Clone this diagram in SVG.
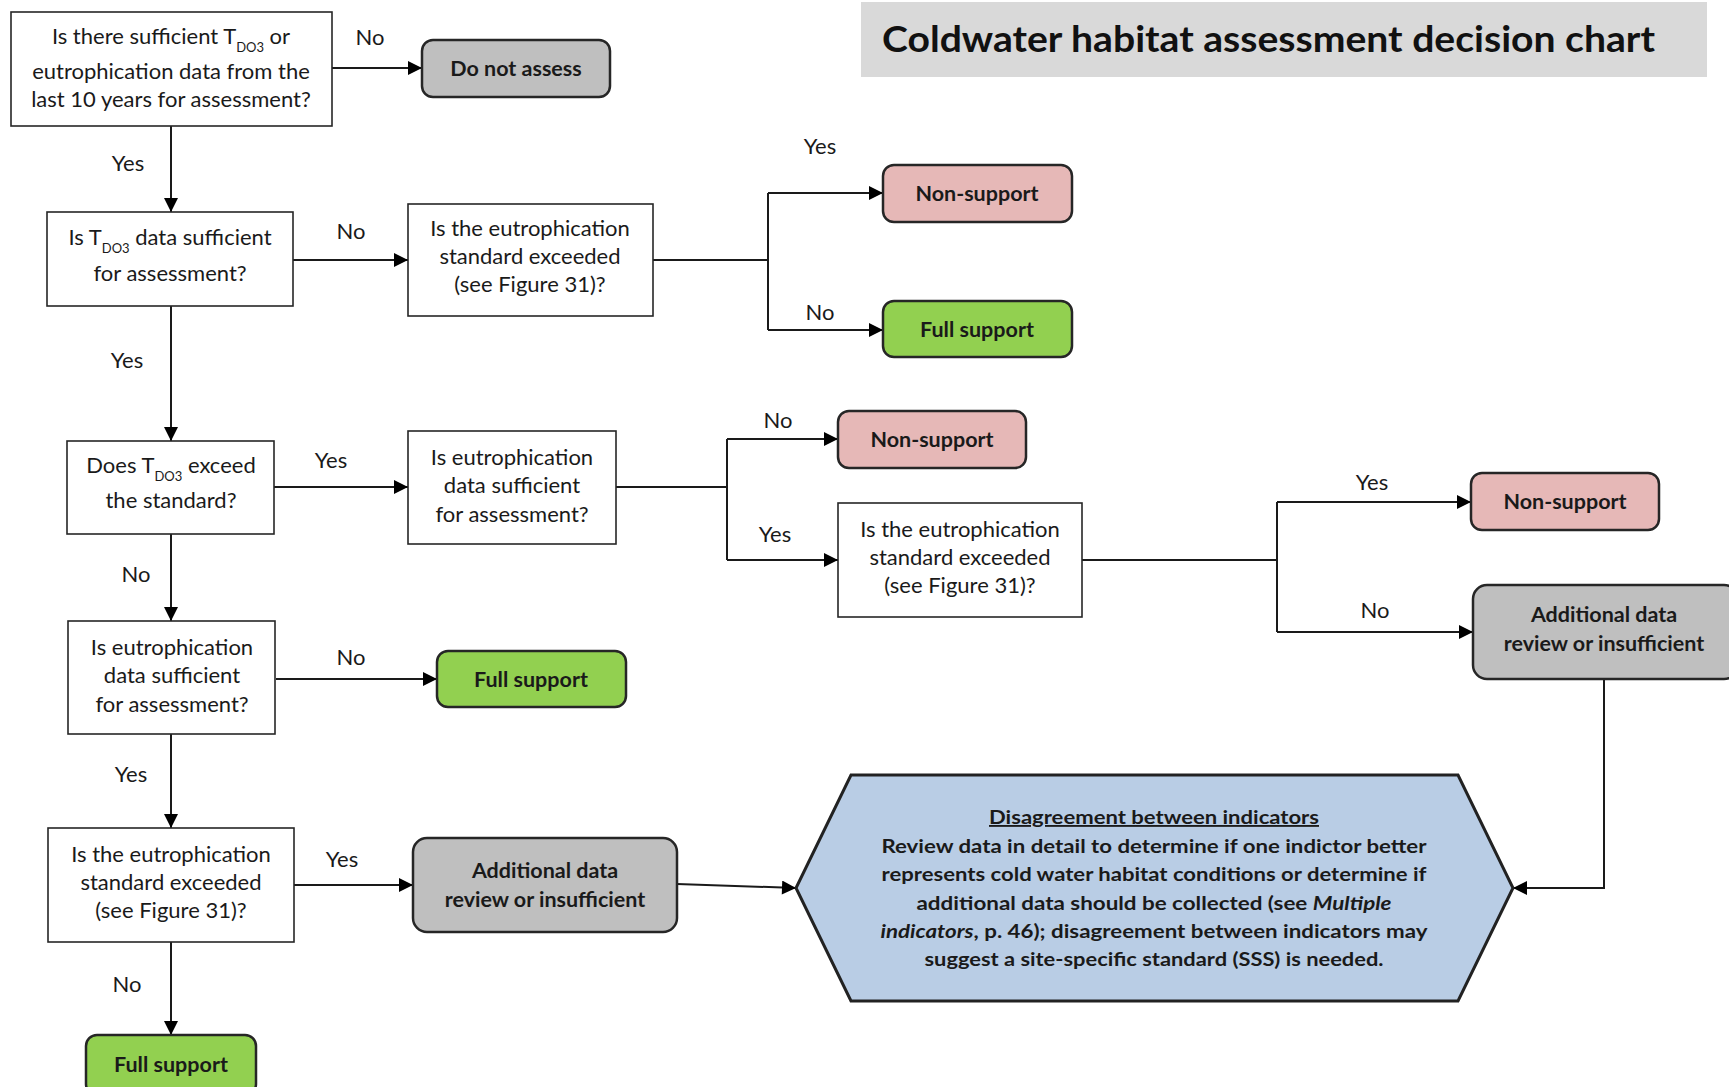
<svg xmlns="http://www.w3.org/2000/svg" width="1729" height="1087" viewBox="0 0 1729 1087">
<style>
.box{fill:#fff;stroke:#262626;stroke-width:1.6}
.res{stroke:#262626;stroke-width:2.5}
.ns{fill:#e6b8b7}
.fs{fill:#92d050}
.gr{fill:#bfbfbf}
.t{font-family:Lato,'Liberation Sans',sans-serif;font-size:22px;fill:#1a1a1a;text-anchor:middle}
.b{font-weight:bold;font-size:21.5px}
.sub{font-size:13px}
.conn{stroke:#1a1a1a;stroke-width:2;fill:none}
</style>
<defs>
<marker id="ah" viewBox="0 0 10 10" refX="10" refY="5" markerWidth="15" markerHeight="14" markerUnits="userSpaceOnUse" orient="auto">
<path d="M0,0 L10,5 L0,10 z" fill="#000"/>
</marker>
</defs>
<rect width="1729" height="1087" fill="#fff"/>

<g id="title">
<rect x="861" y="2" width="846" height="75" fill="#d9d9d9"/>
<text x="882" y="52" font-family="Lato,'Liberation Sans',sans-serif" font-size="36" font-weight="bold" fill="#111" textLength="773" lengthAdjust="spacingAndGlyphs">Coldwater habitat assessment decision chart</text>
</g>

<g id="connectors">
<path class="conn" d="M332,68 H422" marker-end="url(#ah)"/>
<path class="conn" d="M171,126 V212" marker-end="url(#ah)"/>
<path class="conn" d="M293,260 H408" marker-end="url(#ah)"/>
<path class="conn" d="M653,260 H768"/>
<path class="conn" d="M768,193 V330"/>
<path class="conn" d="M768,193 H883" marker-end="url(#ah)"/>
<path class="conn" d="M768,330 H883" marker-end="url(#ah)"/>
<path class="conn" d="M171,306 V441" marker-end="url(#ah)"/>
<path class="conn" d="M274,487 H408" marker-end="url(#ah)"/>
<path class="conn" d="M616,487 H727"/>
<path class="conn" d="M727,439 V560"/>
<path class="conn" d="M727,439 H838" marker-end="url(#ah)"/>
<path class="conn" d="M727,560 H838" marker-end="url(#ah)"/>
<path class="conn" d="M1082,560 H1277"/>
<path class="conn" d="M1277,502 V632"/>
<path class="conn" d="M1277,502 H1471" marker-end="url(#ah)"/>
<path class="conn" d="M1277,632 H1473" marker-end="url(#ah)"/>
<path class="conn" d="M1604,679 V888 H1513" marker-end="url(#ah)"/>
<path class="conn" d="M171,534 V621" marker-end="url(#ah)"/>
<path class="conn" d="M276,679 H437" marker-end="url(#ah)"/>
<path class="conn" d="M171,734 V828" marker-end="url(#ah)"/>
<path class="conn" d="M294,885 H413" marker-end="url(#ah)"/>
<path class="conn" d="M677,884 L796,888" marker-end="url(#ah)"/>
<path class="conn" d="M171,942 V1035" marker-end="url(#ah)"/>
<g class="t">
<text x="370" y="45">No</text>
<text x="128" y="171">Yes</text>
<text x="351" y="239">No</text>
<text x="820" y="154">Yes</text>
<text x="820" y="320">No</text>
<text x="127" y="368">Yes</text>
<text x="331" y="468">Yes</text>
<text x="778" y="428">No</text>
<text x="775" y="542">Yes</text>
<text x="1372" y="490">Yes</text>
<text x="1375" y="618">No</text>
<text x="136" y="582">No</text>
<text x="351" y="665">No</text>
<text x="131" y="782">Yes</text>
<text x="342" y="867">Yes</text>
<text x="127" y="992">No</text>
</g>
</g>

<g id="q1">
<rect class="box" x="11" y="12" width="321" height="114"/>
<text class="t" x="171" y="44">Is there sufficient T<tspan class="sub" dy="8">DO3</tspan><tspan dy="-8"> or</tspan></text>
<text class="t" x="171" y="79">eutrophication data from the</text>
<text class="t" x="171" y="107">last 10 years for assessment?</text>
</g>

<g id="do-not-assess">
<rect class="res gr" x="422" y="40" width="188" height="57" rx="11"/>
<text class="t b" x="516" y="76">Do not assess</text>
</g>

<g id="q2">
<rect class="box" x="47" y="212" width="246" height="94"/>
<text class="t" x="170" y="245">Is T<tspan class="sub" dy="8">DO3</tspan><tspan dy="-8"> data sufficient</tspan></text>
<text class="t" x="170" y="281">for assessment?</text>
</g>

<g id="q3">
<rect class="box" x="408" y="204" width="245" height="112"/>
<text class="t" x="530" y="236">Is the eutrophication</text>
<text class="t" x="530" y="264">standard exceeded</text>
<text class="t" x="530" y="292">(see Figure 31)?</text>
</g>

<g id="ns1">
<rect class="res ns" x="883" y="165" width="189" height="57" rx="11"/>
<text class="t b" x="977" y="201">Non-support</text>
</g>

<g id="fs1">
<rect class="res fs" x="883" y="301" width="189" height="56" rx="11"/>
<text class="t b" x="977" y="337">Full support</text>
</g>

<g id="q4">
<rect class="box" x="67" y="441" width="207" height="93"/>
<text class="t" x="171" y="473">Does T<tspan class="sub" dy="8">DO3</tspan><tspan dy="-8"> exceed</tspan></text>
<text class="t" x="171" y="508">the standard?</text>
</g>

<g id="q5">
<rect class="box" x="408" y="431" width="208" height="113"/>
<text class="t" x="512" y="465">Is eutrophication</text>
<text class="t" x="512" y="493">data sufficient</text>
<text class="t" x="512" y="522">for assessment?</text>
</g>

<g id="ns2">
<rect class="res ns" x="838" y="411" width="188" height="57" rx="11"/>
<text class="t b" x="932" y="447">Non-support</text>
</g>

<g id="q6">
<rect class="box" x="838" y="503" width="244" height="114"/>
<text class="t" x="960" y="537">Is the eutrophication</text>
<text class="t" x="960" y="565">standard exceeded</text>
<text class="t" x="960" y="593">(see Figure 31)?</text>
</g>

<g id="ns3">
<rect class="res ns" x="1471" y="473" width="188" height="57" rx="11"/>
<text class="t b" x="1565" y="509">Non-support</text>
</g>

<g id="adr1">
<rect class="res gr" x="1473" y="585" width="265" height="94" rx="14"/>
<text class="t b" x="1604" y="622">Additional data</text>
<text class="t b" x="1604" y="651">review or insufficient</text>
</g>

<g id="q7">
<rect class="box" x="68" y="621" width="207" height="113"/>
<text class="t" x="172" y="655">Is eutrophication</text>
<text class="t" x="172" y="683">data sufficient</text>
<text class="t" x="172" y="712">for assessment?</text>
</g>

<g id="fs2">
<rect class="res fs" x="437" y="651" width="189" height="56" rx="11"/>
<text class="t b" x="531" y="687">Full support</text>
</g>

<g id="q8">
<rect class="box" x="48" y="828" width="246" height="114"/>
<text class="t" x="171" y="862">Is the eutrophication</text>
<text class="t" x="171" y="890">standard exceeded</text>
<text class="t" x="171" y="918">(see Figure 31)?</text>
</g>

<g id="adr2">
<rect class="res gr" x="413" y="838" width="264" height="94" rx="14"/>
<text class="t b" x="545" y="878">Additional data</text>
<text class="t b" x="545" y="907">review or insufficient</text>
</g>

<g id="fs3">
<rect class="res fs" x="86" y="1035" width="170" height="60" rx="11"/>
<text class="t b" x="171" y="1072">Full support</text>
</g>

<g id="disagreement">
<polygon points="851,775 1458,775 1513,888 1458,1001 851,1001 796,888" fill="#b9cde5" stroke="#222" stroke-width="3"/>
<g class="t b" style="font-size:18.5px">
<text x="1154" y="824" text-decoration="underline" textLength="330" lengthAdjust="spacingAndGlyphs">Disagreement between indicators</text>
<text x="1154" y="853" textLength="545" lengthAdjust="spacingAndGlyphs">Review data in detail to determine if one indictor better</text>
<text x="1154" y="881" textLength="545" lengthAdjust="spacingAndGlyphs">represents cold water habitat conditions or determine if</text>
<text x="1154" y="910" textLength="475" lengthAdjust="spacingAndGlyphs">additional data should be collected (see <tspan font-style="italic">Multiple</tspan></text>
<text x="1154" y="938" textLength="547" lengthAdjust="spacingAndGlyphs"><tspan font-style="italic">indicators</tspan>, p. 46); disagreement between indicators may</text>
<text x="1154" y="966" textLength="459" lengthAdjust="spacingAndGlyphs">suggest a site-specific standard (SSS) is needed.</text>
</g>
</g>
</svg>
